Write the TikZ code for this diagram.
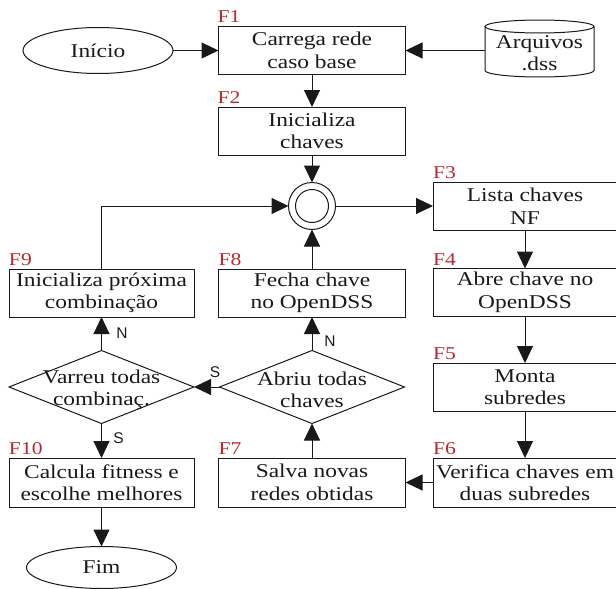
\documentclass[tikz,border=0pt]{standalone}
\usepackage{fontspec}
\setmainfont{Liberation Serif}[FakeStretch=1.2]
\newfontfamily\yesnofont{Liberation Sans}
\usetikzlibrary{shapes.geometric,arrows.meta,calc}
\definecolor{ink}{RGB}{25,25,25}
\definecolor{steplabel}{RGB}{185,40,45}

\begin{document}
\begin{tikzpicture}[x=1pt,y=-1pt,
  every node/.style={inner sep=0pt, outer sep=0pt, text=ink},
  txt/.style={font=\fontsize{19.5}{22.5}\selectfont, align=center},
  proc/.style={txt, rectangle, draw=ink, line width=1pt, minimum height=48pt},
  colL/.style={proc, minimum width=185pt},
  colM/.style={proc, minimum width=187pt},
  colR/.style={proc, minimum width=184pt},
  term/.style={txt, ellipse, draw=ink, line width=1pt, minimum width=150pt},
  decision/.style={diamond, draw=ink, line width=1pt, minimum width=185pt, minimum height=73pt},
  flab/.style={font=\fontsize{18}{18}\selectfont, text=steplabel, anchor=base west},
  yn/.style={font=\yesnofont\fontsize{15.5}{15.5}\selectfont},
  line/.style={draw=ink, line width=1pt},
  arr/.style={line, -{Triangle[length=17pt,width=16pt]}}
]
\useasboundingbox (0,0) rectangle (616,589);

% terminals and data source
\node[term, minimum height=46pt] (ini) at (98,50.5) {Início};
\node[term, minimum height=42pt] (fim) at (101.5,567.5) {Fim};
\node[minimum width=109pt, minimum height=57pt] (arq) at (539.5,48.5) {};
\draw[line] (539.5,26.5) ellipse [x radius=54.5pt, y radius=6.5pt];
\draw[line] (485,26.5) -- (485,70.5)
  arc [start angle=180, end angle=360, x radius=54.5pt, y radius=6.5pt]
  -- (594,26.5);
\node[txt] (arqt) at (539.5,53) {Arquivos\\.dss};

% process steps
\node[colM] (F1) at (312,50.5) {Carrega rede\\caso base};
\node[colM] (F2) at (312,131) {Inicializa\\chaves};
\node[colR] (F3) at (525,206) {Lista chaves\\NF};
\node[colR] (F4) at (525,292.5) {Abre chave no\\OpenDSS};
\node[colR] (F5) at (525,387) {Monta\\subredes};
\node[colR, minimum height=49pt] (F6) at (525,482.5) {Verifica chaves em\\duas subredes};
\node[colM, minimum height=49pt] (F7) at (312,482.5) {Salva novas\\redes obtidas};
\node[colM] (F8) at (312,293) {Fecha chave\\no OpenDSS};
\node[colL] (F9) at (101.5,293) {Inicializa próxima\\combinação};
\node[colL, minimum height=49pt] (F10) at (101.5,482.5) {Calcula fitness e\\escolhe melhores};

% junction
\node[circle, draw=ink, line width=1pt, minimum size=47pt] (J) at (312,206) {};
\node[circle, draw=ink, line width=1pt, minimum size=33pt] (Jin) at (J.center) {};

% decisions
\node[decision] (D1) at (312,387) {};
\node[txt] (D1t) at ([yshift=-3pt]D1.center) {Abriu todas\\chaves};
\node[decision] (D2) at (101.5,387) {};
\node[txt] (D2t) at ([yshift=-3pt]D2.center) {Varreu todas\\combinaç.};

% step labels
\node[flab] (L1) at ([xshift=-1pt,yshift=3.5pt]F1.north west) {F1};
\node[flab] (L2) at ([xshift=-1pt,yshift=3.5pt]F2.north west) {F2};
\node[flab] (L3) at ([yshift=3.5pt]F3.north west) {F3};
\node[flab] (L4) at ([yshift=3.5pt]F4.north west) {F4};
\node[flab] (L5) at ([yshift=3.5pt]F5.north west) {F5};
\node[flab] (L6) at ([yshift=3.5pt]F6.north west) {F6};
\node[flab] (L7) at ([yshift=3.5pt]F7.north west) {F7};
\node[flab] (L8) at ([yshift=3.5pt]F8.north west) {F8};
\node[flab] (L9) at ([yshift=3.5pt]F9.north west) {F9};
\node[flab] (L10) at ([yshift=3.5pt]F10.north west) {F10};

% connectors
\draw[arr] (ini.east) -- (F1.west);
\draw[arr] (arq.west |- F1.east) -- (F1.east);
\draw[arr] (F1.south) -- (F2.north);
\draw[arr] (F2.south) -- (J.north);
\draw[arr] (J.east) -- (F3.west);
\draw[arr] (F9.north) |- (J.west);
\draw[arr] (F8.north) -- (J.south);
\draw[arr] (F3.south) -- (F4.north);
\draw[arr] (F4.south) -- (F5.north);
\draw[arr] (F5.south) -- (F6.north);
\draw[arr] (F6.west) -- (F7.east);
\draw[arr] (F7.north) -- (D1.south);
\draw[arr] (D1.north) -- (F8.south);
\draw[arr] (D1.west) -- (D2.east);
\draw[arr] (D2.north) -- (F9.south);
\draw[arr] (D2.south) -- (F10.north);
\draw[arr] (F10.south) -- (fim.north);

% branch labels
\node[yn] (n1) at ($(D1.north)+(18,-9)$) {N};
\node[yn] (n2) at ($(D2.north)+(20.5,-17)$) {N};
\node[yn] (s1) at ($(D1.west)+(-4.5,-14.5)$) {S};
\node[yn] (s2) at ($(D2.south)+(17,14.5)$) {S};
\end{tikzpicture}
\end{document}
